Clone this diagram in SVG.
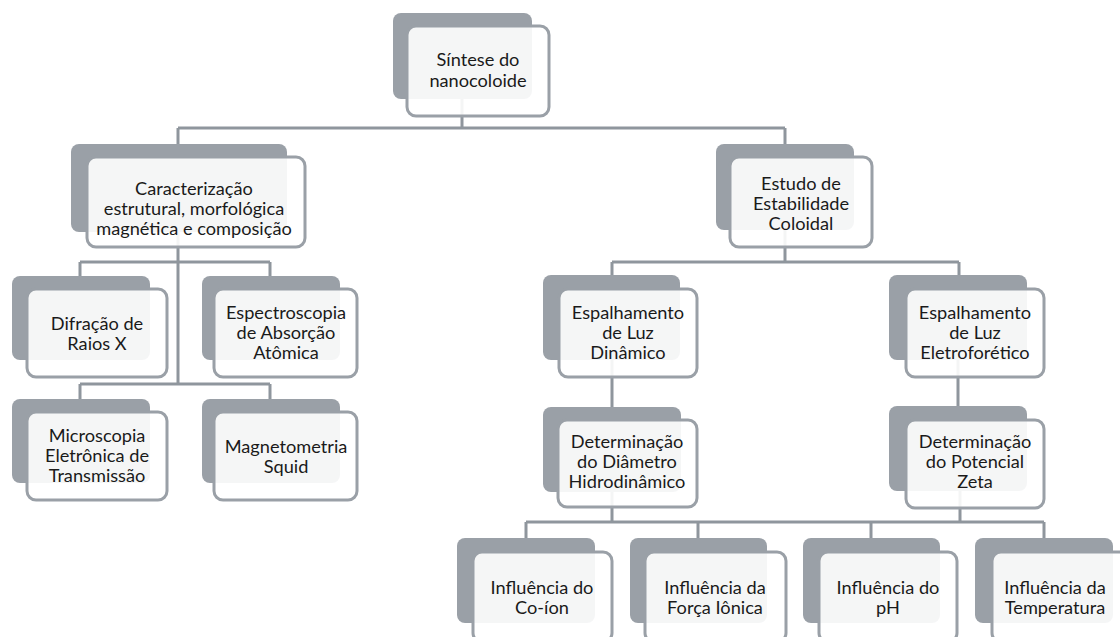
<svg xmlns="http://www.w3.org/2000/svg" width="1120" height="637" viewBox="0 0 1120 637">
<style>
.bk{fill:#9aa0a7;}
.fr{fill:#ffffff;fill-opacity:0.9;stroke:#9aa0a7;stroke-width:3;}
.cn{fill:none;stroke:#8f969d;stroke-width:3;}
text{font-family:Lato,"Open Sans","Liberation Sans",sans-serif;font-size:18.2px;fill:#1a1a1a;text-anchor:middle;}
</style>
<rect width="1120" height="637" fill="#ffffff"/>
<g id="connectors">
<path class="cn" d="M462,99V128M178,128H785M178,128V144M785,128V144"/>
<path class="cn" d="M178,232V384M80,262H270M80,262V276M270,262V276M80,384H270M80,384V399M270,384V399"/>
<path class="cn" d="M785,230V262M612,262H959M612,262V275M959,262V275"/>
<path class="cn" d="M612,360V407M958,360V406"/>
<path class="cn" d="M612,492V522M960,491V522M526,522H1044M526,522V538M698,522V538M871,522V538M1044,522V538"/>
</g>
<g id="n1"><rect class="bk" x="393" y="13" width="139" height="86" rx="8"/><rect class="fr" x="407" y="26" width="142" height="90" rx="9"/><text x="478" y="66">Síntese do</text><text x="478" y="87">nanocoloide</text></g>
<g id="n2"><rect class="bk" x="71" y="144" width="216" height="88" rx="8"/><rect class="fr" x="87" y="157" width="218" height="90" rx="9"/><text x="194" y="195">Caracterização</text><text x="194" y="215">estrutural, morfológica</text><text x="194" y="235">magnética e composição</text></g>
<g id="n3"><rect class="bk" x="716" y="144" width="138" height="86" rx="8"/><rect class="fr" x="730" y="157" width="142" height="90" rx="9"/><text x="801" y="190">Estudo de</text><text x="801" y="210">Estabilidade</text><text x="801" y="230">Coloidal</text></g>
<g id="n4"><rect class="bk" x="12" y="276" width="138" height="84" rx="8"/><rect class="fr" x="27" y="289" width="140" height="88" rx="9"/><text x="97" y="330">Difração de</text><text x="97" y="350">Raios X</text></g>
<g id="n5"><rect class="bk" x="202" y="276" width="138" height="84" rx="8"/><rect class="fr" x="214" y="289" width="143" height="88" rx="9"/><text x="286" y="319">Espectroscopia</text><text x="286" y="339">de Absorção</text><text x="286" y="359">Atômica</text></g>
<g id="n6"><rect class="bk" x="12" y="399" width="138" height="84" rx="8"/><rect class="fr" x="27" y="412" width="140" height="88" rx="9"/><text x="97" y="442">Microscopia</text><text x="97" y="462">Eletrônica de</text><text x="97" y="482">Transmissão</text></g>
<g id="n7"><rect class="bk" x="202" y="399" width="138" height="84" rx="8"/><rect class="fr" x="214" y="412" width="143" height="88" rx="9"/><text x="286" y="453">Magnetometria</text><text x="286" y="473">Squid</text></g>
<g id="n8"><rect class="bk" x="543" y="275" width="137" height="85" rx="8"/><rect class="fr" x="559" y="289" width="138" height="88" rx="9"/><text x="628" y="319">Espalhamento</text><text x="628" y="339">de Luz</text><text x="628" y="359">Dinâmico</text></g>
<g id="n9"><rect class="bk" x="889" y="275" width="138" height="85" rx="8"/><rect class="fr" x="906" y="289" width="138" height="88" rx="9"/><text x="975" y="319">Espalhamento</text><text x="975" y="339">de Luz</text><text x="975" y="359">Eletroforético</text></g>
<g id="n10"><rect class="bk" x="543" y="407" width="138" height="85" rx="8"/><rect class="fr" x="558" y="420" width="139" height="87" rx="9"/><text x="627" y="448">Determinação</text><text x="627" y="468">do Diâmetro</text><text x="627" y="488">Hidrodinâmico</text></g>
<g id="n11"><rect class="bk" x="889" y="406" width="138" height="85" rx="8"/><rect class="fr" x="906" y="420" width="138" height="88" rx="9"/><text x="975" y="448">Determinação</text><text x="975" y="468">do Potencial</text><text x="975" y="488">Zeta</text></g>
<g id="n12"><rect class="bk" x="457" y="538" width="138" height="85" rx="8"/><rect class="fr" x="473" y="552" width="139" height="90" rx="9"/><text x="542" y="594">Influência do</text><text x="542" y="614">Co-íon</text></g>
<g id="n13"><rect class="bk" x="630" y="538" width="137" height="85" rx="8"/><rect class="fr" x="645" y="552" width="141" height="90" rx="9"/><text x="715" y="594">Influência da</text><text x="715" y="614">Força Iônica</text></g>
<g id="n14"><rect class="bk" x="803" y="538" width="137" height="85" rx="8"/><rect class="fr" x="819" y="552" width="138" height="90" rx="9"/><text x="888" y="594">Influência do</text><text x="888" y="614">pH</text></g>
<g id="n15"><rect class="bk" x="975" y="538" width="138" height="85" rx="8"/><rect class="fr" x="992" y="552" width="141" height="90" rx="9"/><text x="1055" y="594">Influência da</text><text x="1055" y="614">Temperatura</text></g>
</svg>
